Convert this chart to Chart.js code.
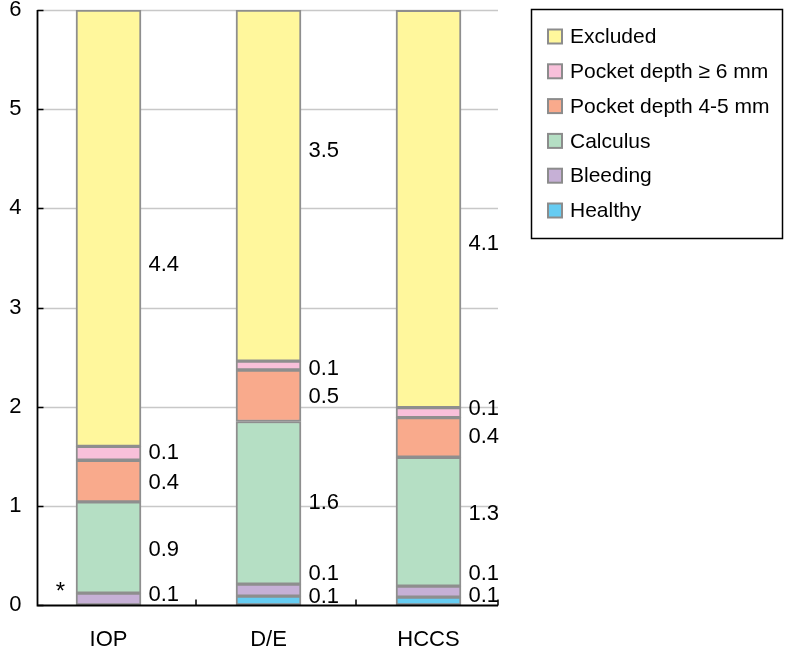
<!DOCTYPE html>
<html>
<head>
<meta charset="utf-8">
<script src="https://cdn.jsdelivr.net/npm/chart.js@4/dist/chart.umd.min.js"></script>
<style>
  html, body { margin: 0; padding: 0; background: #ffffff; }
  #wrap { width: 787px; height: 657px; }
</style>
</head>
<body>
<div id="wrap"><canvas id="chart" width="787" height="657"></canvas></div>
<script>
// Mean number of sextants per group, stacked by periodontal finding
const categories = ['IOP', 'D/E', 'HCCS'];
const healthy   = [0.00, 0.09, 0.08];
const bleeding  = [0.12, 0.12, 0.11];
const calculus  = [0.92, 1.64, 1.30];
const pocket45  = [0.42, 0.52, 0.40];
const pocket6   = [0.14, 0.09, 0.10];
const excluded  = [4.40, 3.54, 4.10];
const yTicks    = [0, 1, 2, 3, 4, 5, 6];

const FONT = 'Liberation Sans, Arial, Helvetica, sans-serif';
const fontSpec = { family: FONT, size: 22 };

// vertical nudges (px) for the value labels, per series (bottom to top) and bar
const labelShift = [
  [0, -4, -5],
  [-4, -16, -18],
  [2, 0, -8],
  [2, 1, 0],
  [0, 3, -4],
  [37, -35, 40]
];

const series = [
  { label: 'Healthy',             data: healthy,  color: '#66ccf2' },
  { label: 'Bleeding',            data: bleeding, color: '#c6b0d6' },
  { label: 'Calculus',            data: calculus, color: '#b5dfc4' },
  { label: 'Pocket depth 4-5 mm', data: pocket45, color: '#f9aa8c' },
  { label: 'Pocket depth \u2265 6 mm', data: pocket6, color: '#f8c0da' },
  { label: 'Excluded',            data: excluded, color: '#fff79c' }
];

const frame = {
  id: 'frame',
  beforeDatasetsDraw(chart) {
    const { ctx, scales: { x, y } } = chart;
    const left = x.getPixelForValue(0) - 71.5;
    const right = x.getPixelForValue(categories.length - 1) + 69.5;
    ctx.save();
    ctx.strokeStyle = '#c8c8c8';
    ctx.lineWidth = 1.5;
    yTicks.forEach(v => {
      if (v === 0) return;
      const py = Math.round(y.getPixelForValue(v)) + 0.5;
      ctx.beginPath(); ctx.moveTo(left, py); ctx.lineTo(right, py); ctx.stroke();
    });
    ctx.restore();
  },
  afterDatasetsDraw(chart) {
    const { ctx, chartArea, scales: { x, y } } = chart;
    const left = Math.round(x.getPixelForValue(0) - 71.5) + 0.5;
    const right = x.getPixelForValue(categories.length - 1) + 69.5;
    const y0 = Math.round(y.getPixelForValue(0)) + 0.5;
    const yTop = y.getPixelForValue(6);
    ctx.save();

    // close off the top edge of stacks that run past the axis maximum
    const topMeta = chart.getDatasetMeta(chart.data.datasets.length - 1);
    ctx.strokeStyle = '#8e8e8e';
    ctx.lineWidth = 2;
    topMeta.data.forEach(el => {
      if (el.y < chartArea.top) {
        ctx.beginPath();
        ctx.moveTo(el.x - el.width / 2, chartArea.top + 1);
        ctx.lineTo(el.x + el.width / 2, chartArea.top + 1);
        ctx.stroke();
      }
    });

    ctx.strokeStyle = '#000';
    ctx.lineWidth = 1.8;
    // axes
    ctx.beginPath();
    ctx.moveTo(left, yTop); ctx.lineTo(left, y0); ctx.lineTo(right, y0);
    ctx.stroke();
    // inward ticks on the value axis
    ctx.lineWidth = 1.5;
    yTicks.forEach(v => {
      const py = Math.round(y.getPixelForValue(v)) + 0.5;
      ctx.beginPath(); ctx.moveTo(left, py); ctx.lineTo(left + 6, py); ctx.stroke();
    });
    // ticks between categories
    const bounds = [];
    for (let i = 0; i < categories.length - 1; i++) bounds.push(x.getPixelForValue(i) + 87.5);
    bounds.push(right);
    bounds.forEach(bx => {
      ctx.beginPath(); ctx.moveTo(bx, y0); ctx.lineTo(bx, y0 - 6); ctx.stroke();
    });

    // value labels
    ctx.fillStyle = '#000';
    ctx.font = '22px ' + FONT;
    ctx.textAlign = 'left';
    ctx.textBaseline = 'middle';
    chart.data.datasets.forEach((ds, di) => {
      const meta = chart.getDatasetMeta(di);
      meta.data.forEach((el, i) => {
        const v = ds.data[i];
        if (!v) return;
        const cy = (el.y + el.base) / 2 + labelShift[di][i];
        ctx.fillText(v.toFixed(1), el.x + 40, cy);
      });
    });

    // significance mark beside the first bar
    ctx.textAlign = 'center';
    ctx.textBaseline = 'alphabetic';
    ctx.font = '24px ' + FONT;
    ctx.fillText('*', x.getPixelForValue(0) - 48, y.getPixelForValue(0) - 6);

    // legend
    ctx.font = '21px ' + FONT;
    const lx = 531.5, ly = 9.5, lw = 251, lh = 229;
    ctx.lineWidth = 1.5;
    ctx.strokeStyle = '#000';
    ctx.strokeRect(lx, ly, lw, lh);
    const items = chart.data.datasets.slice().reverse();
    items.forEach((ds, k) => {
      const ry = 36.5 + k * 34.8;
      ctx.fillStyle = ds.backgroundColor;
      ctx.fillRect(548, ry - 7, 14, 14);
      ctx.strokeStyle = '#8c8c8c';
      ctx.lineWidth = 2;
      ctx.strokeRect(548, ry - 7, 14, 14);
      ctx.fillStyle = '#000';
      ctx.textAlign = 'left';
      ctx.textBaseline = 'middle';
      ctx.fillText(ds.label, 570, ry + 1);
    });
    ctx.restore();
  }
};

new Chart(document.getElementById('chart'), {
  type: 'bar',
  data: {
    labels: categories,
    datasets: series.map(s => ({
      label: s.label,
      data: s.data,
      backgroundColor: s.color,
      borderColor: '#8e8e8e',
      borderWidth: 2,
      borderSkipped: false,
      barThickness: 65
    }))
  },
  options: {
    responsive: false,
    animation: false,
    devicePixelRatio: 1,
    layout: { padding: { top: 0, right: 278.5, left: 0, bottom: 0 } },
    plugins: { legend: { display: false }, tooltip: { enabled: false } },
    scales: {
      x: {
        stacked: true,
        offset: true,
        grid: { display: false, drawTicks: false },
        border: { display: false },
        ticks: { font: fontSpec, color: '#000', padding: 22 },
        afterFit(s) { s.height = 52; s.paddingLeft = 0; s.paddingRight = 0; }
      },
      y: {
        stacked: true,
        min: 0,
        max: 6,
        grid: { display: false, drawTicks: false },
        border: { display: false },
        ticks: { stepSize: 1, font: fontSpec, color: '#000', padding: 7 },
        afterFit(s) { s.width = 28.5; s.paddingTop = 10; s.paddingBottom = 0; }
      }
    }
  },
  plugins: [frame]
});
</script>
</body>
</html>
